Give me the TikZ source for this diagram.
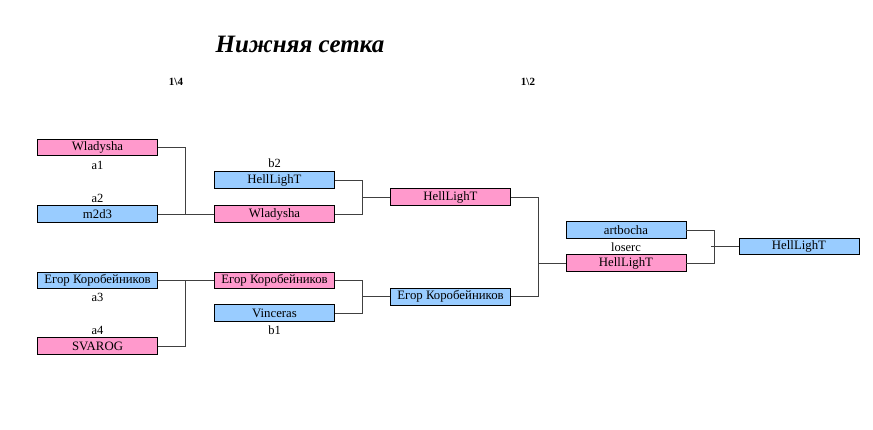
\documentclass[tikz,border=0pt]{standalone}
\usepackage{fontspec}
\setmainfont{Liberation Serif}
\usepackage{tikz}

\definecolor{pinkfill}{HTML}{FF99CC}
\definecolor{bluefill}{HTML}{99CCFF}

\tikzset{
  team/.style={draw, line width=0.8pt, minimum width=120pt, minimum height=16.5pt,
    inner sep=0pt, font=\fontsize{12.8}{12.8}\selectfont},
  pinkteam/.style={team, fill=pinkfill},
  blueteam/.style={team, fill=bluefill},
  seed/.style={inner sep=0pt, font=\fontsize{12.5}{12.5}\selectfont},
  link/.style={line width=0.9pt, black!75}
}

\begin{document}
\begin{tikzpicture}[x=1pt, y=-1pt]

\def \colA {97.5}
\def \colB {274.5}
\def \colC {450.5}
\def \colD {626}
\def \colE {799}
\def \gap {28} % length of the stubs between the columns

\useasboundingbox (0,0) rectangle (873,430);

% headings
\node (title) at (300,44) {\fontsize{25}{25}\selectfont\bfseries\itshape Нижняя сетка};
\node[seed, font=\bfseries\fontsize{11}{11}\selectfont] (quarter) at (176,82) {1\textbackslash 4};
\node[seed, font=\bfseries\fontsize{11}{11}\selectfont] (half) at (528,82) {1\textbackslash 2};

% first column
\node[pinkteam] (a1) at (\colA,147.5) {Wladysha};
\node[blueteam] (a2) at (\colA,214) {m2d3};
\node[blueteam] (a3) at (\colA,280.5) {Егор Коробейников};
\node[pinkteam] (a4) at (\colA,346) {SVAROG};
\node[seed] (a1lab) at (\colA,165) {a1};
\node[seed] (a2lab) at (\colA,198) {a2};
\node[seed] (a3lab) at (\colA,297) {a3};
\node[seed] (a4lab) at (\colA,330) {a4};

% second column
\node[blueteam] (b2) at (\colB,180) {HellLighT};
\node[pinkteam] (w2) at (\colB,214) {Wladysha};
\node[pinkteam] (e2) at (\colB,280.5) {Егор Коробейников};
\node[blueteam] (b1) at (\colB,313) {Vinceras};
\node[seed] (b2lab) at (\colB,163) {b2};
\node[seed] (b1lab) at (\colB,330) {b1};

% third column
\node[pinkteam] (h3) at (\colC,197) {HellLighT};
\node[blueteam] (e3) at (\colC,296.75) {Егор Коробейников};

% fourth column
\node[blueteam] (ar) at (\colD,230) {artbocha};
\node[pinkteam] (h4) at (\colD,263) {HellLighT};
\node[seed] (loser) at (\colD,247) {loserc};

% final
\node[blueteam] (h5) at (\colE,246.5) {HellLighT};

% brackets
\draw[link] (a1.east) -- ++(\gap,0) |- (a2.east);
\draw[link] (a2.east) -- (w2.west);
\draw[link] (a4.east) -- ++(\gap,0) |- (a3.east);
\draw[link] (a3.east) -- (e2.west);

\draw[link] (b2.east) -- ++(\gap,0) |- (w2.east);
\draw[link] (h3.west) -- ++(-\gap,0);
\draw[link] (e2.east) -- ++(\gap,0) |- (b1.east);
\draw[link] (e3.west) -- ++(-\gap,0);

\draw[link] (h3.east) -- ++(\gap,0) |- (e3.east);
\draw[link] (h4.west) -- ++(-\gap,0);

\draw[link] (ar.east) -- ++(\gap,0) |- (h4.east);
\draw[link] (h5.west) -- ++(-\gap,0);

\end{tikzpicture}
\end{document}
